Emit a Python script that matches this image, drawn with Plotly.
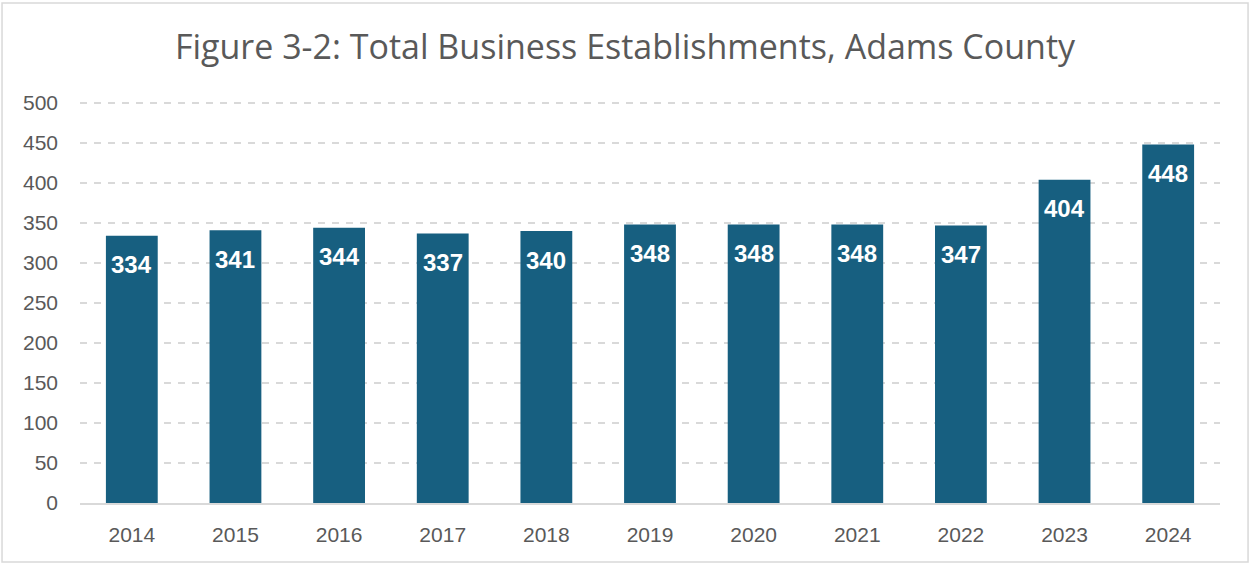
import plotly.graph_objects as go

years = ["2014", "2015", "2016", "2017", "2018", "2019", "2020", "2021", "2022", "2023", "2024"]
establishments = [334, 341, 344, 337, 340, 348, 348, 348, 347, 404, 448]
y_ticks = [0, 50, 100, 150, 200, 250, 300, 350, 400, 450, 500]

fig = go.Figure(go.Bar(
    x=years,
    y=establishments,
    marker=dict(color="#175F80", line=dict(width=0)),
    hoverinfo="x+y",
))

# value labels sit inside the top of each bar (x given as category index)
for i, val in enumerate(establishments):
    fig.add_annotation(
        x=i, y=val, yshift=-29, text=str(val), showarrow=False,
        font=dict(family="Liberation Sans", size=24, color="white", weight="bold"),
    )

# outer chart border
fig.add_shape(type="rect", xref="paper", yref="paper",
              x0=-0.0684, x1=1.0246, y0=-0.1459, y1=1.2376,
              line=dict(color="#D9D9D9", width=1.5), layer="below")

fig.update_layout(
    width=1250, height=565,
    margin=dict(l=80, r=30, t=99, b=62),
    paper_bgcolor="white", plot_bgcolor="white",
    bargap=0.5,
    showlegend=False,
    title=dict(
        text="Figure 3-2: Total Business Establishments, Adams County",
        x=0.5, xanchor="center", y=0.917, yanchor="middle",
        font=dict(family="Open Sans", size=34, color="#595959"),
    ),
    font=dict(family="Liberation Sans", size=21, color="#595959"),
    xaxis=dict(
        type="category", range=[-0.5, 10.5], autorange=False,
        showgrid=False, showline=True, linecolor="#D9D9D9", linewidth=1.5,
        ticks="", ticklabelstandoff=12,
        tickfont=dict(size=21, color="#595959"),
    ),
    yaxis=dict(
        range=[0, 505], autorange=False, tickvals=y_ticks,
        showgrid=True, gridcolor="#D9D9D9", griddash="7px,7px", gridwidth=1.5,
        zeroline=False, showline=False, ticks="", ticklabelstandoff=21,
        tickfont=dict(size=21, color="#595959"),
    ),
)

fig.write_html("out.html", config={"displayModeBar": False},
               post_script="document.body.style.margin='0';")
